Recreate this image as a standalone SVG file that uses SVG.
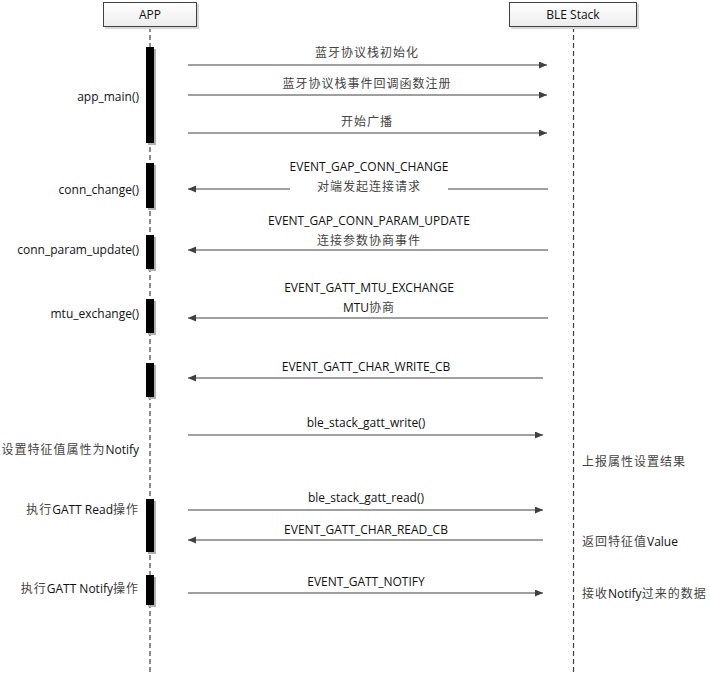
<svg xmlns="http://www.w3.org/2000/svg" width="709" height="675" viewBox="0 0 709 675">
<style>
.bg{fill:#ffffff}
.box{fill:url(#boxg);stroke:#404040;stroke-width:1}
.boxsh{fill:#d8d8d8}
.life{stroke:#404040;stroke-width:1.2;stroke-dasharray:5 3;fill:none}
.act{fill:#000000}
.actsh{fill:#b0b0b0}
.msg{stroke:#404040;stroke-width:1;fill:none;marker-end:url(#ah)}
.t{font-family:"Open Sans","Noto Sans CJK SC",sans-serif;font-size:12px;fill:#111111}
.c{font-family:"Noto Sans CJK SC",sans-serif;font-size:12px;letter-spacing:1px;fill:#444444}
.mid{text-anchor:middle}
.end{text-anchor:end}
</style>
<defs>
<linearGradient id="boxg" x1="0" y1="0" x2="0" y2="1">
<stop offset="0" stop-color="#ffffff"/>
<stop offset="1" stop-color="#ececec"/>
</linearGradient>
<marker id="ah" markerUnits="userSpaceOnUse" markerWidth="9" markerHeight="8" refX="8" refY="3.5" orient="auto">
<path d="M0,0 L8,3.5 L0,7 z" fill="#404040"/>
</marker>
</defs>
<rect class="bg" x="0" y="0" width="709" height="675"/>

<g id="lifelines">
<line class="life" x1="150" y1="27" x2="150" y2="675"/>
<line class="life" x1="573.5" y1="27" x2="573.5" y2="675"/>
</g>

<g id="app">
<rect class="boxsh" x="105" y="4" width="94" height="25"/>
<rect class="box" x="103.5" y="2.5" width="93" height="24"/>
<text class="t mid" x="150" y="19">APP</text>
</g>

<g id="ble-stack">
<rect class="boxsh" x="511" y="4" width="128" height="25"/>
<rect class="box" x="509.5" y="2.5" width="127" height="24"/>
<text class="t mid" x="573" y="19">BLE Stack</text>
</g>

<g id="activations">
<rect class="actsh" x="148" y="49" width="8" height="96"/>
<rect class="act" x="146" y="47" width="8" height="96"/>
<rect class="actsh" x="148" y="165" width="8" height="45"/>
<rect class="act" x="146" y="163" width="8" height="45"/>
<rect class="actsh" x="148" y="237" width="8" height="34"/>
<rect class="act" x="146" y="235" width="8" height="34"/>
<rect class="actsh" x="148" y="301" width="8" height="34"/>
<rect class="act" x="146" y="299" width="8" height="34"/>
<rect class="actsh" x="148" y="365" width="8" height="34"/>
<rect class="act" x="146" y="363" width="8" height="34"/>
<rect class="actsh" x="148" y="501" width="8" height="53"/>
<rect class="act" x="146" y="499" width="8" height="53"/>
<rect class="actsh" x="148" y="577" width="8" height="30"/>
<rect class="act" x="146" y="575" width="8" height="30"/>
</g>

<g id="app-labels">
<text class="t end" x="139" y="101">app_main()</text>
<text class="t end" x="139" y="194">conn_change()</text>
<text class="t end" x="139" y="254">conn_param_update()</text>
<text class="t end" x="139" y="318">mtu_exchange()</text>
<text class="t end" x="139" y="454"><tspan class="c">设置特征值属性为</tspan>Notify</text>
<text class="t end" x="139" y="514"><tspan class="c">执行</tspan>GATT Read<tspan class="c">操作</tspan></text>
<text class="t end" x="139" y="593"><tspan class="c">执行</tspan>GATT Notify<tspan class="c">操作</tspan></text>
</g>

<g id="stack-labels">
<text class="c" x="582" y="466">上报属性设置结果</text>
<text class="t" x="582" y="546"><tspan class="c">返回特征值</tspan>Value</text>
<text class="t" x="582" y="598"><tspan class="c">接收</tspan>Notify<tspan class="c">过来的数据</tspan></text>
</g>

<g id="connectors">
<line class="msg" x1="188" y1="65" x2="547" y2="65"/>
<text class="c mid" x="367" y="57">蓝牙协议栈初始化</text>

<line class="msg" x1="188" y1="95" x2="547" y2="95"/>
<text class="c mid" x="367" y="88">蓝牙协议栈事件回调函数注册</text>

<line class="msg" x1="188" y1="133" x2="547" y2="133"/>
<text class="c mid" x="367" y="126">开始广播</text>

<line class="msg" x1="548" y1="189" x2="188" y2="189"/>
<rect x="290" y="179" width="158" height="16" fill="#ffffff"/>
<text class="t mid" x="369" y="171">EVENT_GAP_CONN_CHANGE</text>
<text class="c mid" x="369" y="191">对端发起连接请求</text>

<line class="msg" x1="548" y1="250" x2="188" y2="250"/>
<text class="t mid" x="369" y="225">EVENT_GAP_CONN_PARAM_UPDATE</text>
<text class="c mid" x="369" y="245">连接参数协商事件</text>

<line class="msg" x1="548" y1="318" x2="188" y2="318"/>
<text class="t mid" x="369" y="292">EVENT_GATT_MTU_EXCHANGE</text>
<text class="t mid" x="369" y="312">MTU<tspan class="c">协商</tspan></text>

<line class="msg" x1="543" y1="378" x2="188" y2="378"/>
<text class="t mid" x="366" y="371">EVENT_GATT_CHAR_WRITE_CB</text>

<line class="msg" x1="188" y1="435" x2="543" y2="435"/>
<text class="t mid" x="366" y="427">ble_stack_gatt_write()</text>

<line class="msg" x1="188" y1="510" x2="543" y2="510"/>
<text class="t mid" x="366" y="502">ble_stack_gatt_read()</text>

<line class="msg" x1="543" y1="540" x2="188" y2="540"/>
<text class="t mid" x="366" y="534">EVENT_GATT_CHAR_READ_CB</text>

<line class="msg" x1="188" y1="593" x2="543" y2="593"/>
<text class="t mid" x="366" y="586">EVENT_GATT_NOTIFY</text>
</g>
</svg>
